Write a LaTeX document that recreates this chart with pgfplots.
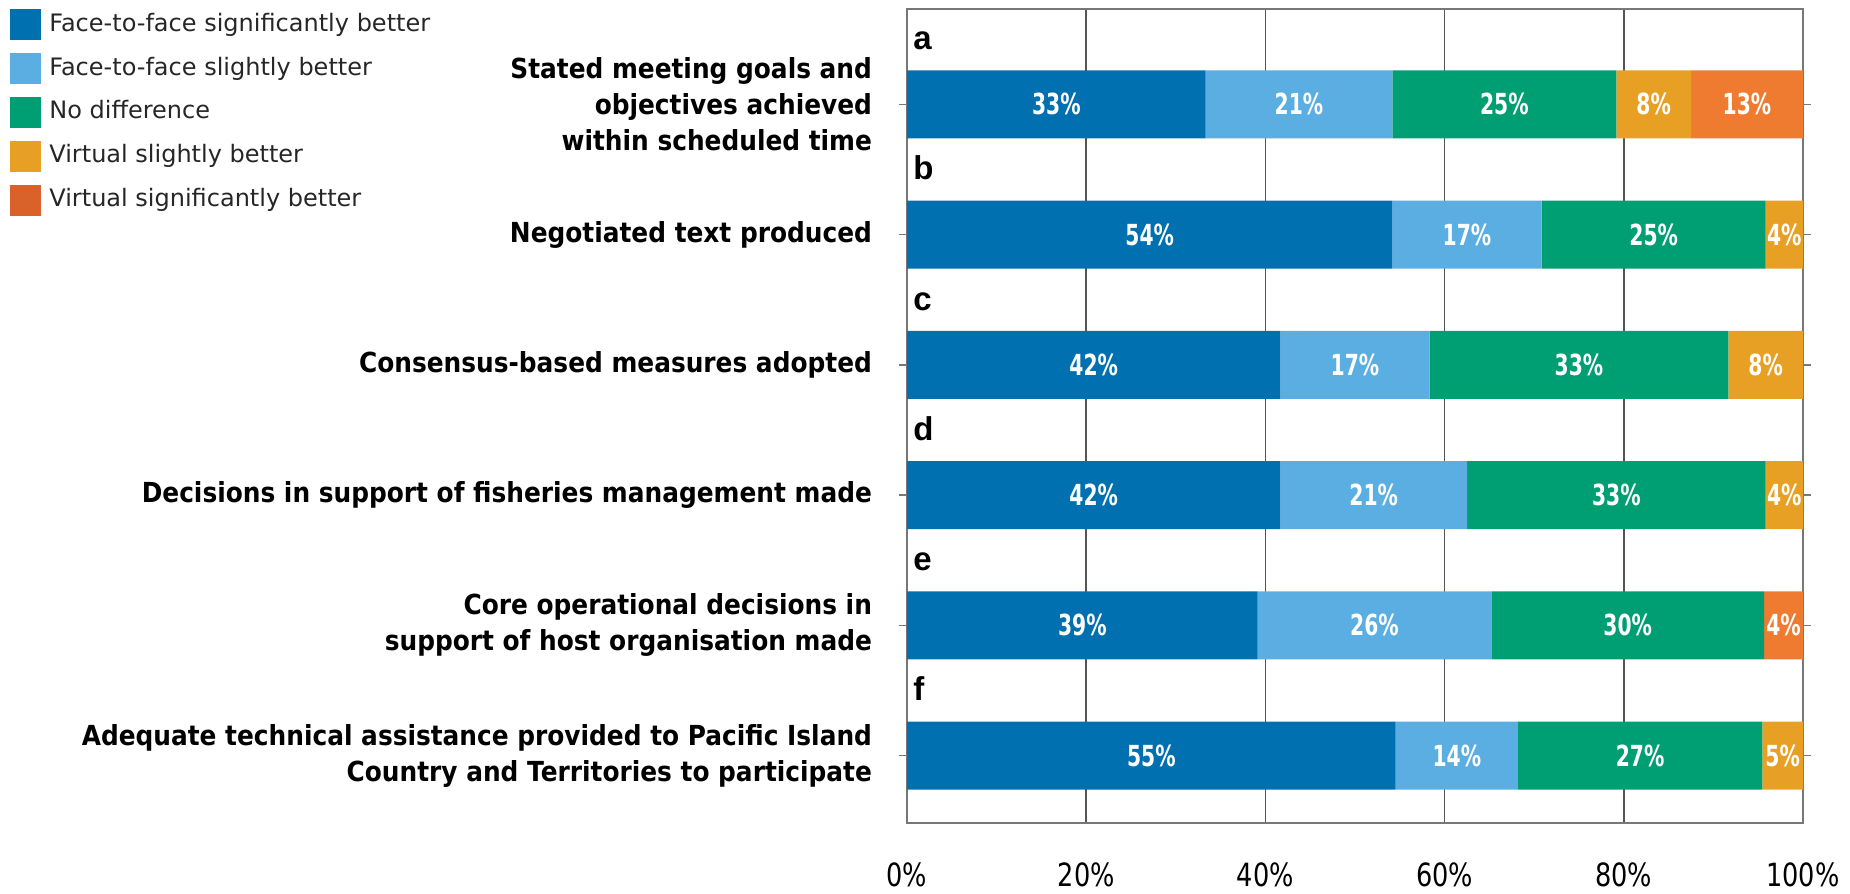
\documentclass[border=0pt]{standalone}
\usepackage{fontspec}
\setmainfont{DejaVu Sans}
\newfontfamily\catfont{DejaVu Sans}[FakeStretch=0.9]
\newfontfamily\barfont{DejaVu Sans}[FakeStretch=0.7]
\newfontfamily\tickfont{DejaVu Sans}[FakeStretch=0.8]
\newfontfamily\letterfont{Liberation Sans}
\usepackage{pgfplots}
\pgfplotsset{compat=1.18}
\definecolor{cA}{HTML}{0070B0}
\definecolor{cB}{HTML}{5BAEE2}
\definecolor{cC}{HTML}{009E73}
\definecolor{cD}{HTML}{E8A024}
\definecolor{cE}{HTML}{EE7B30}
\definecolor{cEleg}{HTML}{D9612A}
\definecolor{gridc}{HTML}{555555}
\definecolor{framec}{HTML}{777777}
\pgfplotsset{sqleg/.style={legend image code/.code={\fill[##1] (0pt,-7.75pt) rectangle (15.5pt,7.75pt);}}}
\tikzset{letr/.style={anchor=base west, inner sep=0pt, xshift=3pt, font=\letterfont\bfseries\fontsize{16.5}{18}\selectfont}}
\begin{document}
\begin{tikzpicture}
\path[use as bounding box] (0,0) rectangle (925pt,446.5pt);
\begin{axis}[
  at={(453.5pt,35pt)}, anchor=south west,
  scale only axis, width=448pt, height=407pt,
  xbar stacked, bar width=0.522,
  xmin=0, xmax=100, ymin=-0.518, ymax=5.733,
  xtick={0,20,40,60,80,100},
  xticklabels={0\%,20\%,40\%,60\%,80\%,100\%},
  /pgf/number format/assume math mode=true,
  xmajorgrids, grid style={gridc, line width=0.75pt},
  axis line style={framec, line width=0.9pt},
  tick align=outside, major tick length=4pt,
  xtick style={draw=none},
  ytick style={framec, line width=0.75pt},
  ytick={0,1,2,3,4,5},
  yticklabels={{Adequate technical assistance provided to Pacific Island\\Country and Territories to participate},
    {Core operational decisions in\\support of host organisation made},
    {Decisions in support of fisheries management made},
    {Consensus-based measures adopted},
    {Negotiated text produced},
    {Stated meeting goals and\\objectives achieved\\within scheduled time}},
  yticklabel style={font=\catfont\bfseries\fontsize{13.8}{18}\selectfont, align=right, text=black, xshift=-10pt},
  xticklabel style={font=\tickfont\fontsize{16}{18}\selectfont, text=black, yshift=-12.5pt},
  nodes near coords, point meta=explicit symbolic,
  every node near coord/.append style={anchor=center, text=white, inner sep=0pt, font=\barfont\bfseries\fontsize{14.5}{16}\selectfont},
  legend style={at={(axis description cs:-1.0011,1)}, anchor=north west, draw=none, fill=none,
    font=\fontsize{12}{14}\selectfont, text=black!85, inner sep=0pt, row sep=6.4pt, column sep=4pt,
    nodes={inner sep=0pt, text height=9pt, text depth=2.6pt}},
  legend cell align=left,
]
\addplot[fill=cA, draw=none, forget plot] coordinates {(54.545,0) [55\%] (39.130,1) [39\%] (41.667,2) [42\%] (41.667,3) [42\%] (54.167,4) [54\%] (33.333,5) [33\%]};
\addplot[fill=cB, draw=none, forget plot] coordinates {(13.636,0) [14\%] (26.087,1) [26\%] (20.833,2) [21\%] (16.667,3) [17\%] (16.667,4) [17\%] (20.833,5) [21\%]};
\addplot[fill=cC, draw=none, forget plot] coordinates {(27.273,0) [27\%] (30.435,1) [30\%] (33.333,2) [33\%] (33.333,3) [33\%] (25,4) [25\%] (25,5) [25\%]};
\addplot[fill=cD, draw=none, forget plot] coordinates {(4.545,0) [5\%] (0,1) [{}] (4.166,2) [4\%] (8.333,3) [8\%] (4.165,4) [4\%] (8.333,5) [8\%]};
\addplot[fill=cE, draw=none, forget plot] coordinates {(0,0) [{}] (4.347,1) [4\%] (0,2) [{}] (0,3) [{}] (0,4) [{}] (12.5,5) [13\%]};
\addlegendimage{sqleg, fill=cA, draw=none}
\addlegendentry{Face-to-face significantly better}
\addlegendimage{sqleg, fill=cB, draw=none}
\addlegendentry{Face-to-face slightly better}
\addlegendimage{sqleg, fill=cC, draw=none}
\addlegendentry{No difference}
\addlegendimage{sqleg, fill=cD, draw=none}
\addlegendentry{Virtual slightly better}
\addlegendimage{sqleg, fill=cEleg, draw=none}
\addlegendentry{Virtual significantly better}
\node[letr] at (axis cs:0,5.42) {a};
\node[letr] at (axis cs:0,4.42) {b};
\node[letr] at (axis cs:0,3.42) {c};
\node[letr] at (axis cs:0,2.42) {d};
\node[letr] at (axis cs:0,1.42) {e};
\node[letr] at (axis cs:0,0.42) {f};
\end{axis}
\end{tikzpicture}
\end{document}
